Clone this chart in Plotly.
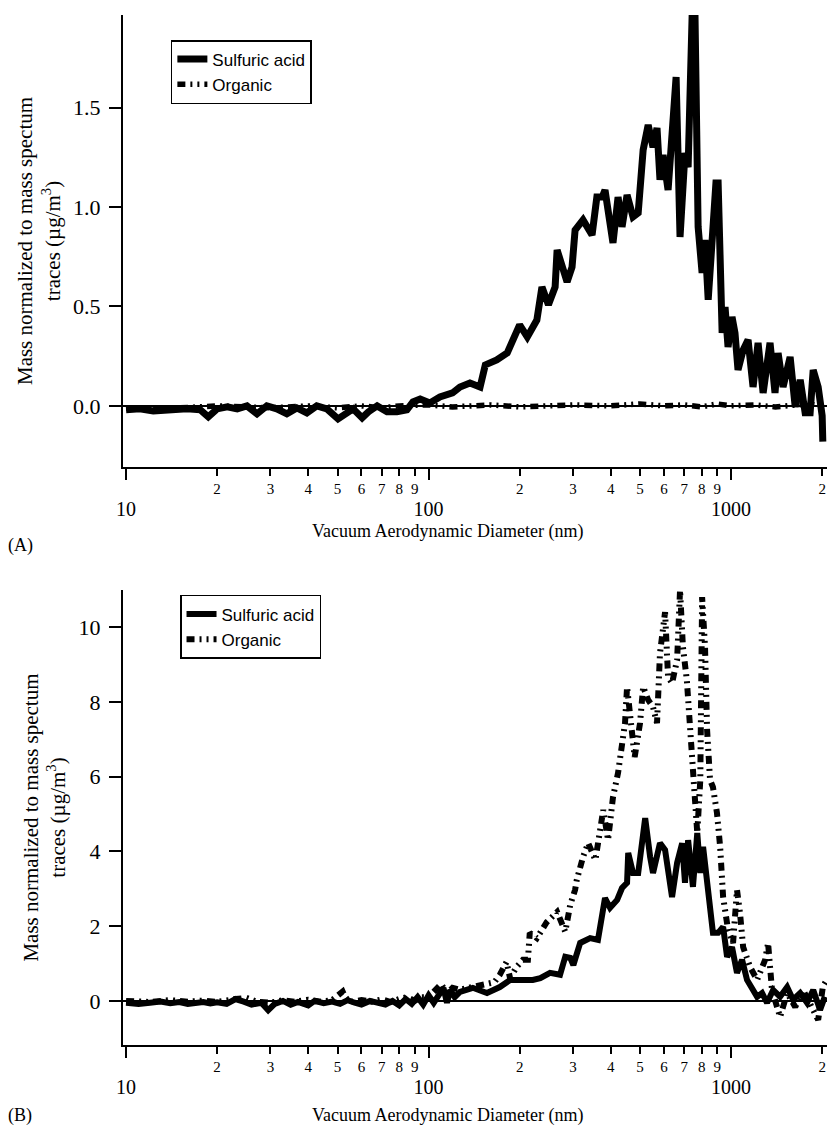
import math
import plotly.graph_objects as go

# ---------------- data ----------------
# Panel A : sulfuric acid
dA_sulf = [10, 11.1, 12.3, 14.0, 15.9, 17.6, 18.7, 20, 21.6, 23.3, 25.1, 27.1, 29.2, 31.5, 34.0, 36.7,
           39.6, 42.7, 46.1, 50.2, 53.8, 56.3, 60.3, 63.2, 67.6, 72.9, 78.6, 84.8, 88.8, 93.8, 101, 109,
           120, 127, 137, 148, 154, 168, 182, 196, 200, 212, 228, 237, 249, 262, 266, 287, 298, 305,
           324, 347, 360, 375, 383, 407, 423, 436, 453, 474, 493, 512, 532, 552, 569, 582, 596, 619,
           638, 658, 678, 704, 721, 743, 760, 778, 802, 820, 840, 865, 891, 906, 934, 955, 977, 1007,
           1030, 1054, 1096, 1138, 1182, 1228, 1276, 1345, 1397, 1430, 1485, 1567, 1629, 1692, 1757,
           1825, 1868, 1940, 2000, 2010]
vA_sulf = [-0.02, -0.015, -0.025, -0.02, -0.015, -0.02, -0.055, -0.015, -0.005, -0.015, 0.0, -0.04,
           0.0, -0.015, -0.04, -0.01, -0.035, 0.0, -0.015, -0.065, -0.04, -0.015, -0.06, -0.03, 0.0,
           -0.03, -0.03, -0.02, 0.02, 0.035, 0.015, 0.045, 0.065, 0.095, 0.115, 0.095, 0.206, 0.231,
           0.266, 0.367, 0.407, 0.347, 0.432, 0.598, 0.508, 0.598, 0.784, 0.623, 0.698, 0.884, 0.935,
           0.859, 1.05, 1.05, 1.085, 0.819, 1.05, 0.90, 1.06, 0.95, 0.97, 1.286, 1.412, 1.30, 1.397,
           1.136, 1.261, 1.085, 1.402, 1.653, 0.849, 1.271, 1.20, 1.95, 1.95, 0.90, 0.668, 0.834,
           0.533, 0.834, 1.12, 1.12, 0.367, 0.497, 0.296, 0.447, 0.367, 0.181, 0.281, 0.332, 0.095,
           0.317, 0.065, 0.317, 0.065, 0.266, 0.095, 0.246, -0.005, 0.131, -0.035, -0.035, 0.181,
           0.095, -0.05, -0.18]

# Panel A : organic
dA_org = [10, 15, 20, 30, 40, 50, 60, 70, 80, 90, 100, 120, 140, 160, 200, 250, 300, 400, 500, 600,
          700, 800, 900, 1000, 1200, 1400, 1600, 1800, 2000]
vA_org = [-0.01, -0.01, 0.0, -0.01, 0.0, -0.01, 0.0, -0.01, 0.0, 0.0, 0.005, -0.005, 0.0, 0.005,
          -0.005, 0.0, 0.005, 0.0, 0.01, 0.0, 0.005, -0.005, 0.01, 0.0, 0.005, -0.005, 0.0, 0.01, 0.0]

# Panel B : sulfuric acid
dB_sulf = [10, 11, 12, 13, 14, 15, 16, 17, 18, 19, 20, 21.5, 23, 24.5, 26, 28, 29.5, 31, 33, 35, 37,
           40, 42, 45, 48, 51, 54, 57, 60, 64, 68, 72, 76, 80, 84, 88, 92, 96, 100, 104, 109, 112,
           115, 118, 122, 127, 140, 156, 172, 186, 205, 221, 234, 252, 272, 283, 294, 301, 317, 342,
           363, 383, 398, 420, 436, 453, 457, 474, 493, 520, 540, 552, 582, 605, 638, 663, 689, 704,
           721, 748, 773, 791, 808, 840, 871, 906, 941, 970, 1007, 1046, 1087, 1129, 1173, 1219,
           1266, 1315, 1377, 1452, 1532, 1603, 1692, 1783, 1868, 1968, 2040]
vB_sulf = [-0.05, -0.08, -0.05, -0.02, -0.06, -0.03, -0.08, -0.05, -0.03, -0.07, -0.04, -0.08, 0.05,
           -0.02, -0.1, -0.05, -0.25, -0.08, 0.0, -0.1, -0.03, -0.12, 0.0, -0.06, -0.02, -0.08, 0.02,
           -0.05, -0.1, 0.0, -0.05, -0.1, 0.0, -0.12, 0.05, -0.08, 0.1, -0.1, 0.15, -0.05, 0.2, 0.35,
           -0.05, 0.29, 0.1, 0.24, 0.35, 0.21, 0.37, 0.56, 0.56, 0.56, 0.61, 0.75, 0.70, 1.18, 1.15,
           0.96, 1.55, 1.68, 1.63, 2.75, 2.49, 2.70, 3.02, 3.16, 3.96, 3.42, 3.42, 4.89, 3.85, 3.42,
           4.22, 4.04, 2.78, 3.69, 4.22, 3.16, 4.3, 3.05, 4.49, 3.42, 4.12, 3.05, 1.82, 1.82, 1.98,
           1.18, 1.44, 0.75, 1.10, 0.56, 0.37, 0.11, 0.21, -0.05, 0.29, 0.11, 0.37, 0.03, 0.21,
           -0.05, 0.29, -0.24, 0.11]

# Panel B : organic
dB_org = [10, 12, 14, 16, 18, 20, 23, 25, 27, 30, 33, 36, 40, 44, 48, 52, 53, 55, 60, 65, 70, 75, 80,
          85, 90, 95, 100, 105, 110, 115, 120, 127, 135, 145, 155, 165, 172, 178, 181, 186, 195, 205,
          213, 216, 228, 246, 266, 283, 294, 305, 309, 324, 337, 356, 369, 378, 392, 407, 423, 436,
          446, 453, 464, 480, 500, 512, 532, 552, 569, 582, 605, 619, 638, 663, 678, 693, 714, 730,
          748, 773, 791, 802, 820, 833, 852, 871, 898, 920, 941, 955, 977, 1015, 1046, 1070, 1096,
          1155, 1219, 1296, 1325, 1365, 1452, 1532, 1629, 1730, 1854, 1940, 2010, 2070]
vB_org = [0.0, -0.03, 0.02, -0.02, 0.01, -0.03, 0.05, 0.08, -0.02, -0.05, 0.02, -0.02, 0.03, -0.02,
          0.02, 0.25, 0.1, -0.03, 0.02, -0.02, 0.04, -0.03, 0.05, 0.1, 0.0, 0.1, 0.1, 0.3, 0.45, 0.2,
          0.35, 0.3, 0.35, 0.4, 0.45, 0.5, 0.7, 0.95, 1.04, 0.6, 0.9, 1.1, 1.1, 1.82, 1.68, 2.11,
          2.38, 1.85, 2.57, 2.97, 3.24, 3.85, 4.22, 3.77, 4.49, 5.11, 4.30, 5.45, 6.10, 6.90, 7.43,
          8.40, 7.70, 6.52, 7.43, 8.40, 8.05, 7.86, 7.43, 9.30, 10.40, 8.66, 8.50, 9.12, 10.99, 9.47,
          8.58, 7.51, 5.99, 4.49, 5.91, 10.80, 9.47, 7.25, 5.91, 5.72, 5.03, 4.12, 2.78, 2.35, 1.90,
          1.55, 2.97, 2.35, 1.44, 0.91, 0.56, 1.10, 1.55, 0.29, -0.43, 0.21, -0.16, 0.29, -0.24,
          -0.51, 0.37, 0.56]

# tick labels
minor_vals = [20, 30, 40, 50, 60, 70, 80, 90, 200, 300, 400, 500, 600, 700, 800, 900, 2000]
minor_text = ["2", "3", "4", "5", "6", "7", "8", "9", "2", "3", "4", "5", "6", "7", "8", "9", "2"]
major_vals = [10, 100, 1000]
major_text = ["10", "100", "1000"]
yA_vals = [0, 0.5, 1.0, 1.5]
yA_text = ["0.0", "0.5", "1.0", "1.5"]
yB_vals = [0, 2, 4, 6, 8, 10]
yB_text = ["0", "2", "4", "6", "8", "10"]

x_title = "Vacuum Aerodynamic Diameter (nm)"
y_title = "Mass normalized to mass spectum<br>traces (µg/m<sup>3</sup>)"

# ---------------- figure ----------------
SERIF = "Liberation Serif"
SANS = "Liberation Sans"
ORG_DASH = "8px,5px,2px,5px,2px,5px"
XR = [math.log10(9.77), math.log10(2075)]

fig = go.Figure()
fig.add_trace(go.Scatter(x=dA_sulf, y=vA_sulf, mode="lines", name="Sulfuric acid",
                         line=dict(color="black", width=7), xaxis="x", yaxis="y", legend="legend"))
fig.add_trace(go.Scatter(x=dA_org, y=vA_org, mode="lines", name="Organic",
                         line=dict(color="black", width=5.5, dash=ORG_DASH), xaxis="x", yaxis="y",
                         legend="legend"))
fig.add_trace(go.Scatter(x=dB_sulf, y=vB_sulf, mode="lines", name="Sulfuric acid",
                         line=dict(color="black", width=6), xaxis="x2", yaxis="y2", legend="legend2"))
fig.add_trace(go.Scatter(x=dB_org, y=vB_org, mode="lines", name="Organic",
                         line=dict(color="black", width=6, dash=ORG_DASH), xaxis="x2", yaxis="y2",
                         legend="legend2"))
# empty helper traces so the major-tick overlay axes are drawn
fig.add_trace(go.Scatter(x=[], y=[], xaxis="x3", yaxis="y", showlegend=False, hoverinfo="skip"))
fig.add_trace(go.Scatter(x=[], y=[], xaxis="x4", yaxis="y2", showlegend=False, hoverinfo="skip"))

minor_axis = dict(type="log", range=XR, tickmode="array", tickvals=minor_vals, ticktext=minor_text,
                  ticks="outside", ticklen=7, tickwidth=1.5, tickcolor="black", automargin=False,
                  showline=True, linewidth=2, linecolor="black", showgrid=False, zeroline=False,
                  tickfont=dict(family=SERIF, size=15, color="black"), ticklabelstandoff=0)
major_axis = dict(type="log", range=XR, tickmode="array", tickvals=major_vals, ticktext=major_text,
                  ticks="outside", ticklen=12, tickwidth=2, tickcolor="black", automargin=False,
                  showline=False, showgrid=False, zeroline=False, side="bottom",
                  tickfont=dict(family=SERIF, size=20, color="black"), ticklabelstandoff=12)
y_common = dict(ticks="outside", ticklen=12, tickwidth=1.5, tickcolor="black", automargin=False,
                showline=True, linewidth=2, linecolor="black", showgrid=False,
                zeroline=True, zerolinecolor="black", zerolinewidth=1.5,
                tickfont=dict(family=SERIF, size=22, color="black"), ticklabelstandoff=4,
                title=dict(text=y_title, font=dict(family=SERIF, size=21, color="black"),
                           standoff=7))

TXT = dict(family=SERIF, size=18, color="black")
fig.update_layout(
    width=834, height=1128,
    margin=dict(l=123, r=7, t=15, b=83),
    plot_bgcolor="white", paper_bgcolor="white",
    xaxis=dict(minor_axis, anchor="y", domain=[0, 1]),
    xaxis3=dict(major_axis, anchor="y", overlaying="x"),
    xaxis2=dict(minor_axis, anchor="y2", domain=[0, 1]),
    xaxis4=dict(major_axis, anchor="y2", overlaying="x2"),
    yaxis=dict(y_common, domain=[0.5612, 1], range=[-0.307, 1.965], tickmode="array",
               tickvals=yA_vals, ticktext=yA_text, anchor="x"),
    yaxis2=dict(y_common, domain=[0, 0.4417], range=[-1.18, 10.99], tickmode="array",
                tickvals=yB_vals, ticktext=yB_text, anchor="x2"),
    legend=dict(x=0.068, y=0.9757, xanchor="left", yanchor="top", bgcolor="white",
                bordercolor="black", borderwidth=1.5, font=dict(family=SANS, size=17, color="black"),
                tracegroupgap=0),
    legend2=dict(x=0.081, y=0.4369, xanchor="left", yanchor="top", bgcolor="white",
                 bordercolor="black", borderwidth=1.5, font=dict(family=SANS, size=17, color="black"),
                 tracegroupgap=0),
    showlegend=True,
    annotations=[
        dict(text=x_title, xref="paper", yref="paper", x=0.4616, y=0.4981, xanchor="center",
             yanchor="middle", showarrow=False, font=TXT),
        dict(text=x_title, xref="paper", yref="paper", x=0.4616, y=-0.0689, xanchor="center",
             yanchor="middle", showarrow=False, font=TXT),
        dict(text="(A)", xref="paper", yref="paper", x=-0.1662, y=0.4854, xanchor="left",
             yanchor="middle", showarrow=False, font=TXT),
        dict(text="(B)", xref="paper", yref="paper", x=-0.1662, y=-0.0689, xanchor="left",
             yanchor="middle", showarrow=False, font=TXT),
    ],
)

fig.write_html("out.html")
